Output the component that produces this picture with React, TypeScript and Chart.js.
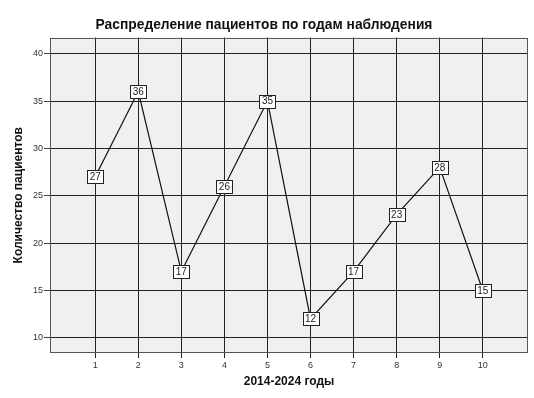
import React, { useEffect, useRef } from "react";
import { Chart, registerables } from "chart.js";

Chart.register(...registerables);

const chartTitle = "Распределение пациентов по годам наблюдения";
const xTitle = "2014-2024 годы";
const yTitle = "Количество пациентов";
const years = [1, 2, 3, 4, 5, 6, 7, 8, 9, 10];
const patients = [27, 36, 17, 26, 35, 12, 17, 23, 28, 15];
const yTicks = [10, 15, 20, 25, 30, 35, 40];

const FONT = "'Liberation Sans', Arial, sans-serif";

const boxLabels = {
  id: "boxLabels",
  afterDatasetsDraw(chart: any) {
    const ctx = chart.ctx;
    const meta = chart.getDatasetMeta(0);
    ctx.save();
    ctx.font = `10px ${FONT}`;
    ctx.textAlign = "center";
    ctx.textBaseline = "middle";
    meta.data.forEach((pt: any, i: number) => {
      const v = chart.data.datasets[0].data[i];
      const text = String(v.y);
      const w = 16;
      const h = 13;
      const x = Math.round(pt.x - w / 2) + 0.5;
      const y = Math.round(pt.y - h / 2) + 0.5;
      ctx.fillStyle = "#ffffff";
      ctx.fillRect(x, y, w, h);
      ctx.strokeStyle = "#222222";
      ctx.lineWidth = 1;
      ctx.strokeRect(x, y, w, h);
      ctx.fillStyle = "#222222";
      ctx.fillText(text, pt.x, pt.y + 0.5);
    });
    ctx.restore();
  },
};

const plotBg = {
  id: "plotBg",
  beforeDraw(chart: any) {
    const { ctx, chartArea } = chart;
    ctx.save();
    ctx.fillStyle = "#f0f0f0";
    ctx.fillRect(chartArea.left, chartArea.top, chartArea.right - chartArea.left, chartArea.bottom - chartArea.top);
    ctx.restore();
  },
  afterDraw(chart: any) {
    const { ctx, chartArea } = chart;
    ctx.save();
    ctx.strokeStyle = "#555555";
    ctx.lineWidth = 1;
    ctx.strokeRect(
      Math.round(chartArea.left) + 0.5,
      Math.round(chartArea.top) + 0.5,
      Math.round(chartArea.right - chartArea.left) - 1,
      Math.round(chartArea.bottom - chartArea.top) - 1
    );
    ctx.restore();
  },
};

export default function App() {
  const ref = useRef<HTMLCanvasElement>(null);
  useEffect(() => {
    document.body.style.margin = "0";
    const canvas = ref.current!;
    const chart = new Chart(canvas, {
      type: "line",
      data: {
        datasets: [
          {
            data: years.map((x, i) => ({ x, y: patients[i] })),
            borderColor: "#111111",
            borderWidth: 1.2,
            pointRadius: 0,
            tension: 0,
            fill: false,
          },
        ],
      },
      options: {
        animation: false,
        responsive: false,
        layout: { padding: { left: 0, right: 6, top: 0, bottom: 0 } },
        plugins: {
          legend: { display: false },
          tooltip: { enabled: false },
          title: {
            display: true,
            text: chartTitle,
            color: "#111111",
            font: { family: FONT, size: 13.8, weight: "bold" },
            padding: { top: 17, bottom: 4 },
          },
        },
        scales: {
          x: {
            type: "linear",
            min: -0.05,
            max: 11.05,
            afterBuildTicks: (scale: any) => {
              scale.ticks = years.map((v) => ({ value: v }));
            },
            afterFit: (scale: any) => {
              scale.height = 45;
            },
            ticks: {
              stepSize: 1,
              includeBounds: false,
              color: "#333333",
              padding: 2,
              font: { family: FONT, size: 9 },
              maxRotation: 0,
            },
            grid: {
              color: "#222222",
              lineWidth: 1,
              tickLength: 5,
              tickColor: "#222222",
            },
            border: { display: false },
            title: {
              display: true,
              text: xTitle,
              color: "#111111",
              font: { family: FONT, size: 12, weight: "bold" },
              padding: { top: 0, bottom: 9 },
            },
          },
          y: {
            type: "linear",
            min: 8.4,
            max: 41.7,
            afterBuildTicks: (scale: any) => {
              scale.ticks = yTicks.map((v) => ({ value: v }));
            },
            afterFit: (scale: any) => {
              scale.width = 50;
            },
            ticks: {
              stepSize: 5,
              includeBounds: false,
              color: "#333333",
              padding: 1,
              font: { family: FONT, size: 9 },
            },
            grid: {
              color: "#222222",
              lineWidth: 1,
              tickLength: 6,
              tickColor: "#444444",
            },
            border: { display: false },
            title: {
              display: true,
              text: yTitle,
              color: "#111111",
              font: { family: FONT, size: 12, weight: "bold" },
              padding: { top: 11, bottom: 0 },
            },
          },
        },
      },
      plugins: [plotBg, boxLabels],
    } as any);
    return () => chart.destroy();
  }, []);
  return (
    <div style={{ width: 534, height: 398 }}>
      <canvas ref={ref} width={534} height={398} style={{ display: "block" }} />
    </div>
  );
}
